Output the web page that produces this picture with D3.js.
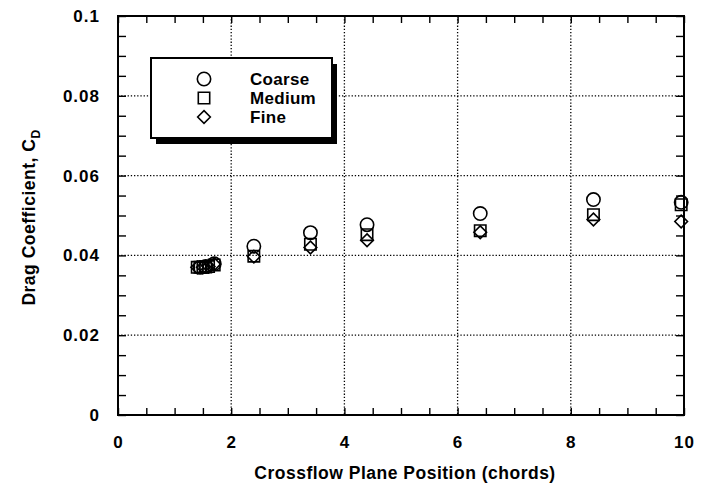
<!DOCTYPE html>
<html><head><meta charset="utf-8">
<script src="https://cdn.jsdelivr.net/npm/d3@7"></script>
<style>
body{margin:0;background:#fff;}
text{font-family:"Liberation Sans",Arial,Helvetica,sans-serif;fill:#000;}
</style></head>
<body><svg id="chart" width="702" height="484"></svg>
<script>
const xTicks = [0, 2, 4, 6, 8, 10];
const yTicks = [0, 0.02, 0.04, 0.06, 0.08, 0.1];
const yTickLabels = ["0", "0.02", "0.04", "0.06", "0.08", "0.1"];
const seriesNames = ["Coarse", "Medium", "Fine"];
const coarseX = [1.45, 1.55, 1.7, 2.4, 3.4, 4.4, 6.4, 8.4, 9.95];
const coarseY = [0.0370, 0.0372, 0.0379, 0.0423, 0.0457, 0.0477, 0.0505, 0.0540, 0.0533];
const mediumX = [1.4, 1.45, 1.5, 1.55, 1.6, 1.7, 2.4, 3.4, 4.4, 6.4, 8.4, 9.95];
const mediumY = [0.0370, 0.0370, 0.0370, 0.0371, 0.0372, 0.0376, 0.0398, 0.0428, 0.0452, 0.0462, 0.0502, 0.0527];
const fineX = [1.4, 1.5, 1.6, 1.7, 2.4, 3.4, 4.4, 6.4, 8.4, 9.95];
const fineY = [0.0370, 0.0370, 0.0372, 0.0378, 0.0397, 0.0420, 0.0438, 0.0458, 0.0490, 0.0485];

const svg = d3.select("#chart");
const L = 118, R = 684, T = 16, B = 415;
const x = d3.scaleLinear().domain([0, 10]).range([L, R]);
const y = d3.scaleLinear().domain([0, 0.1]).range([B, T]);
const FONT = "Liberation Sans, Arial, sans-serif";

// grid
const grid = svg.append("g").attr("stroke", "#000").attr("stroke-width", 1.3).attr("stroke-dasharray", "1.3,1.9");
grid.selectAll(".gx").data(xTicks.slice(1, -1)).join("line")
  .attr("x1", d => x(d)).attr("x2", d => x(d)).attr("y1", T).attr("y2", B);
grid.selectAll(".gy").data(yTicks.slice(1, -1)).join("line")
  .attr("y1", d => y(d)).attr("y2", d => y(d)).attr("x1", L).attr("x2", R);

// minor/major tick marks (inward)
const xMinor = d3.range(0, 10.001, 0.5);
const yMinor = d3.range(0, 0.1001, 0.005);
function tickAxis(axis, tr, vals, size) {
  svg.append("g").attr("transform", tr)
    .call(axis.tickValues(vals).tickSize(size).tickFormat(""))
    .call(g => g.select(".domain").remove())
    .selectAll("line").attr("stroke-width", 1.4);
}
tickAxis(d3.axisBottom(x), `translate(0,${B})`, xMinor, -7);
tickAxis(d3.axisTop(x), `translate(0,${T})`, xMinor, -7);
tickAxis(d3.axisLeft(y), `translate(${L},0)`, yMinor, -8);
tickAxis(d3.axisRight(y), `translate(${R},0)`, yMinor, -8);

// tick labels
const xl = svg.append("g").attr("transform", `translate(0,${B})`)
  .call(d3.axisBottom(x).tickValues(xTicks).tickSize(0).tickPadding(25).tickFormat(d3.format("d")));
xl.select(".domain").remove();
xl.selectAll("text").attr("font-size", 17).attr("font-weight", "bold").attr("letter-spacing", 1)
  .style("font-family", FONT).attr("dy", "0.45em");
const yl = svg.append("g").attr("transform", `translate(${L},0)`)
  .call(d3.axisLeft(y).tickValues(yTicks).tickSize(0).tickPadding(18).tickFormat((d, i) => yTickLabels[i]));
yl.select(".domain").remove();
yl.selectAll("text").attr("font-size", 17).attr("font-weight", "bold").attr("letter-spacing", 1)
  .style("font-family", FONT);

// frame
svg.append("rect").attr("x", L).attr("y", T).attr("width", R - L).attr("height", B - T)
  .attr("fill", "none").attr("stroke", "#000").attr("stroke-width", 2);

// titles
svg.append("text").attr("x", (L + R) / 2 + 4).attr("y", 479).attr("text-anchor", "middle")
  .attr("font-size", 17.5).attr("font-weight", "bold").attr("letter-spacing", 0.5)
  .text("Crossflow Plane Position (chords)");
const yt = svg.append("text").attr("transform", `translate(35,${(T + B) / 2 + 2}) rotate(-90)`)
  .attr("text-anchor", "middle").attr("font-size", 17.5).attr("font-weight", "bold").attr("letter-spacing", 0.5);
yt.append("tspan").text("Drag Coefficient, C");
yt.append("tspan").attr("font-size", 12).attr("dy", 5).text("D");

// symbols
const squareDiamond = {
  draw(ctx, size) {
    const r = Math.sqrt(size / 2);
    ctx.moveTo(0, -r); ctx.lineTo(r, 0); ctx.lineTo(0, r); ctx.lineTo(-r, 0); ctx.closePath();
  }
};
const sym = {
  Coarse: d3.symbol().type(d3.symbolCircle).size(140),
  Medium: d3.symbol().type(d3.symbolSquare).size(130),
  Fine: d3.symbol().type(squareDiamond).size(80)
};
const series = [
  {name: "Coarse", xs: coarseX, ys: coarseY},
  {name: "Medium", xs: mediumX, ys: mediumY},
  {name: "Fine", xs: fineX, ys: fineY}
];
series.slice().reverse().forEach(s => {
  svg.append("g").selectAll("path").data(s.xs.map((v, i) => [v, s.ys[i]])).join("path")
    .attr("d", sym[s.name]())
    .attr("transform", d => `translate(${x(d[0])},${y(d[1])})`)
    .attr("fill", "none").attr("stroke", "#000").attr("stroke-width", 1.6);
});

// legend
const lg = svg.append("g");
lg.append("rect").attr("x", 156).attr("y", 64).attr("width", 181).attr("height", 80).attr("fill", "#000");
lg.append("rect").attr("x", 151).attr("y", 58).attr("width", 181).attr("height", 80)
  .attr("fill", "#fff").attr("stroke", "#000").attr("stroke-width", 2);
seriesNames.forEach((n, i) => {
  const cy = 79 + i * 19;
  lg.append("path").attr("d", sym[n]()).attr("transform", `translate(204,${cy})`)
    .attr("fill", "none").attr("stroke", "#000").attr("stroke-width", 1.6);
  lg.append("text").attr("x", 250).attr("y", cy + 6).attr("font-size", 17).attr("font-weight", "bold")
    .attr("letter-spacing", 0.3).text(n);
});
</script></body></html>
